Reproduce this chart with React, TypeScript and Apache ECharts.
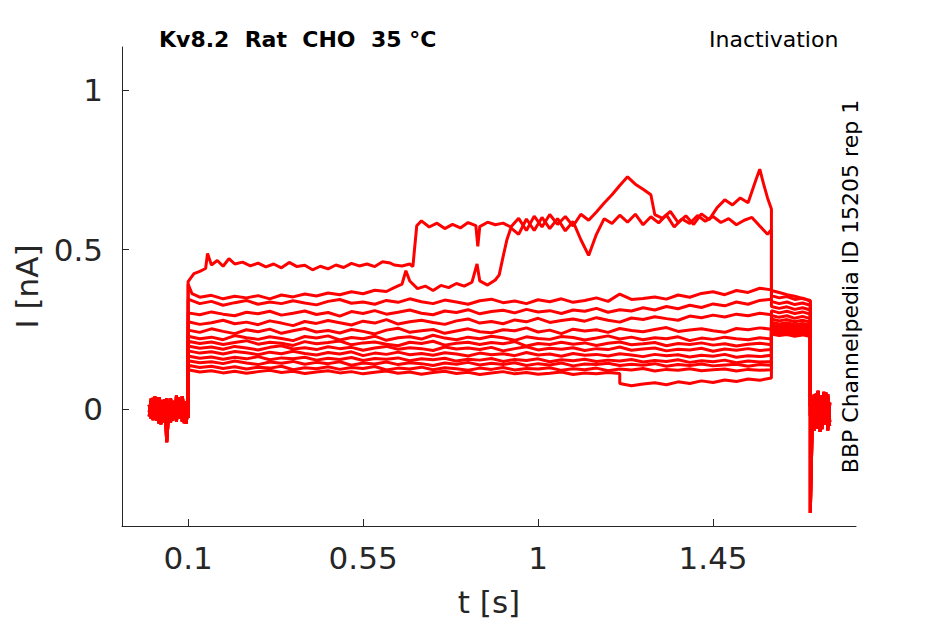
import React, { useEffect, useRef } from "react";
import * as echarts from "echarts";

// ---------- axis ticks ----------
const X_TICKS = [0.1, 0.55, 1, 1.45];
const Y_TICKS = [0, 0.5, 1];

// ---------- time grids (s) ----------
const PRE_T = [0, 0.005, 0.01, 0.015, 0.02, 0.025, 0.03, 0.035, 0.04, 0.045, 0.05, 0.055, 0.06, 0.065, 0.07, 0.075, 0.08, 0.085, 0.09, 0.095, 0.1];
const T_MAIN = [0.10, 0.13, 0.16, 0.19, 0.22, 0.25, 0.28, 0.31, 0.34, 0.37, 0.40, 0.43, 0.46, 0.49, 0.52, 0.55, 0.58, 0.61, 0.64, 0.67, 0.70, 0.73, 0.76, 0.79, 0.82, 0.85, 0.88, 0.91, 0.94, 0.97, 1.00, 1.03, 1.06, 1.09, 1.12, 1.15, 1.18, 1.21, 1.24, 1.27, 1.30, 1.33, 1.36, 1.39, 1.42, 1.45, 1.48, 1.51, 1.54, 1.57, 1.60];
const POST_T = [1.6, 1.62, 1.64, 1.66, 1.68, 1.7];
const TAIL_T = [1.7, 1.705, 1.71, 1.715, 1.72, 1.725, 1.73, 1.735, 1.74, 1.745, 1.75];

// ---------- baseline noise before / after the steps (pA) ----------
const PRE_1 = [-8, 21, -34, 12, -27, 38, -15, 29, -41, 7, -22, 33, -12, 26, -38, 17, -29, 41, -6, 24, -18];
const PRE_2 = [14, -29, 36, -18, 27, -44, 19, -7, 31, -103, -12, 28, -35, 9, -24, 37, -16, 30, -43, 11, -27];
const PRE_3 = [-22, 33, -11, 40, -36, 5, -47, 24, -19, 35, -8, -41, 18, -30, 43, -13, 27, -39, 21, -45, 8];
const TAIL_1 = [-325, -42, 38, -61, 27, -55, 44, -38, 52, -66, 21];
const TAIL_2 = [12, -58, 46, -33, 58, -71, 31, -49, 40, -28, -52];
const TAIL_3 = [-20, 35, -67, 49, -44, 22, -62, 55, -30, 47, -40];

// ---------- two large traces (own time grids) ----------
const A_T = [0.100, 0.115, 0.130, 0.145, 0.150, 0.160, 0.175, 0.190, 0.205, 0.220, 0.240, 0.260, 0.280, 0.300, 0.320, 0.340, 0.360, 0.380, 0.400, 0.420, 0.440, 0.460, 0.480, 0.500, 0.520, 0.540, 0.560, 0.580, 0.600, 0.620, 0.630, 0.650, 0.670, 0.678, 0.688, 0.700, 0.720, 0.740, 0.760, 0.780, 0.800, 0.820, 0.840, 0.845, 0.850, 0.870, 0.890, 0.910, 0.930, 0.950, 0.970, 0.990, 1.010, 1.030, 1.050, 1.070, 1.090, 1.110, 1.130, 1.150, 1.170, 1.190, 1.210, 1.230, 1.250, 1.270, 1.290, 1.300, 1.320, 1.340, 1.360, 1.380, 1.400, 1.420, 1.440, 1.460, 1.480, 1.500, 1.520, 1.540, 1.560, 1.570, 1.580, 1.590, 1.600];
const A_V = [400, 425, 432, 441, 488, 452, 466, 448, 472, 455, 461, 449, 458, 446, 455, 443, 460, 447, 451, 437, 448, 440, 452, 444, 457, 449, 455, 447, 462, 458, 452, 449, 455, 447, 575, 590, 571, 583, 566, 579, 568, 585, 575, 510, 572, 586, 578, 583, 571, 598, 560, 605, 571, 610, 579, 604, 574, 611, 592, 618, 646, 672, 701, 728, 705, 689, 672, 610, 598, 620, 585, 606, 579, 612, 594, 631, 656, 640, 662, 647, 718, 752, 705, 662, 627];
const B_T = [0.100, 0.110, 0.130, 0.160, 0.190, 0.220, 0.250, 0.280, 0.310, 0.340, 0.370, 0.400, 0.430, 0.460, 0.490, 0.520, 0.550, 0.580, 0.610, 0.630, 0.650, 0.660, 0.670, 0.690, 0.710, 0.730, 0.750, 0.770, 0.790, 0.810, 0.830, 0.843, 0.850, 0.870, 0.890, 0.900, 0.910, 0.920, 0.930, 0.950, 0.970, 0.990, 1.010, 1.030, 1.050, 1.070, 1.090, 1.110, 1.130, 1.150, 1.170, 1.190, 1.210, 1.230, 1.250, 1.270, 1.290, 1.310, 1.330, 1.350, 1.370, 1.390, 1.410, 1.430, 1.450, 1.470, 1.490, 1.510, 1.530, 1.550, 1.570, 1.590, 1.600];
const B_V = [392, 362, 351, 357, 346, 354, 349, 356, 346, 358, 352, 361, 355, 364, 359, 368, 362, 373, 369, 381, 392, 434, 402, 378, 386, 372, 388, 381, 394, 386, 398, 455, 402, 389, 405, 421, 478, 532, 568, 548, 596, 560, 601, 566, 597, 559, 588, 531, 482, 548, 597, 582, 608, 586, 611, 578, 603, 584, 609, 571, 596, 582, 607, 589, 604, 585, 597, 578, 592, 601, 574, 548, 562];

// ---------- lower traces on T_MAIN (pA) ----------
const L1 = [345, 331, 338, 326, 334, 341, 329, 336, 331, 340, 333, 327, 338, 344, 332, 336, 329, 341, 335, 346, 337, 331, 342, 336, 329, 340, 345, 334, 339, 331, 343, 337, 346, 335, 341, 349, 338, 361, 344, 347, 352, 345, 358, 351, 363, 368, 359, 372, 366, 379, 374];
const L2 = [302, 296, 305, 298, 293, 304, 299, 307, 295, 301, 308, 297, 303, 292, 306, 300, 309, 298, 304, 311, 301, 296, 308, 303, 312, 299, 306, 310, 302, 313, 305, 309, 300, 311, 307, 316, 304, 312, 308, 318, 311, 322, 315, 326, 319, 330, 324, 336, 329, 341, 345];
const L3 = [274, 266, 271, 279, 268, 273, 265, 277, 270, 262, 275, 269, 278, 271, 264, 276, 270, 281, 267, 274, 279, 272, 266, 277, 283, 270, 275, 268, 280, 274, 285, 272, 278, 283, 276, 287, 279, 273, 286, 281, 290, 284, 279, 292, 287, 295, 289, 298, 293, 301, 296];
const L4 = [248, 241, 252, 244, 237, 249, 243, 251, 238, 246, 253, 242, 247, 239, 250, 244, 236, 248, 254, 241, 246, 250, 238, 245, 252, 243, 240, 249, 246, 255, 242, 248, 237, 251, 245, 249, 241, 253, 247, 243, 250, 256, 244, 248, 252, 246, 241, 253, 249, 255, 251];
const L5 = [229, 221, 226, 218, 231, 224, 219, 227, 222, 215, 228, 223, 230, 217, 225, 221, 229, 216, 224, 227, 220, 232, 223, 218, 226, 221, 229, 224, 216, 227, 222, 219, 228, 225, 217, 223, 230, 220, 226, 218, 224, 221, 227, 215, 223, 219, 226, 221, 218, 224, 220];
const L6 = [213, 206, 211, 203, 209, 215, 204, 210, 207, 200, 212, 205, 209, 214, 202, 208, 211, 204, 199, 210, 206, 213, 201, 207, 210, 203, 209, 205, 212, 198, 206, 203, 210, 204, 208, 200, 207, 211, 202, 205, 209, 199, 206, 203, 208, 201, 205, 198, 204, 207, 202];
const L7 = [198, 191, 195, 188, 197, 192, 186, 194, 199, 189, 193, 187, 196, 190, 194, 185, 192, 197, 188, 193, 190, 184, 195, 189, 192, 187, 194, 183, 190, 196, 186, 191, 188, 193, 184, 190, 187, 195, 185, 189, 192, 183, 188, 186, 191, 182, 189, 185, 190, 184, 187];
const L8 = [183, 176, 180, 173, 181, 177, 171, 179, 174, 182, 175, 170, 178, 173, 180, 168, 176, 172, 179, 171, 175, 169, 177, 173, 167, 176, 171, 174, 168, 178, 170, 173, 166, 175, 169, 172, 167, 174, 170, 165, 172, 168, 171, 164, 169, 166, 172, 163, 168, 165, 169];
const L9 = [167, 160, 164, 157, 163, 158, 165, 155, 161, 158, 163, 154, 160, 156, 162, 153, 159, 157, 161, 152, 158, 155, 160, 151, 157, 154, 159, 150, 156, 153, 158, 149, 155, 152, 157, 150, 154, 151, 156, 148, 153, 150, 155, 147, 152, 149, 154, 146, 151, 148, 150];
const L10 = [152, 146, 149, 143, 151, 145, 140, 148, 144, 150, 141, 147, 143, 149, 138, 145, 142, 148, 140, 146, 143, 137, 145, 141, 147, 139, 144, 140, 146, 137, 143, 139, 145, 136, 142, 140, 144, 137, 141, 138, 143, 135, 140, 137, 142, 136, 139, 141, 135, 140, 138];
const L11 = [138, 131, 135, 128, 133, 126, 132, 129, 135, 124, 130, 127, 133, 125, 131, 128, 134, 123, 129, 126, 132, 124, 130, 127, 122, 129, 125, 131, 123, 128, 126, 130, 122, 127, 124, 129, 121, 126, 123, 128, 120, 125, 122, 127, 121, 124, 126, 120, 125, 122, 124];
// trace that drops at t = 1.21 s (its grid repeats 1.21 for the step)
const D_T = [...T_MAIN.slice(0, 38), ...T_MAIN.slice(37)];
const D_V = [124, 117, 121, 114, 119, 113, 118, 122, 115, 119, 112, 117, 121, 114, 118, 111, 116, 120, 113, 117, 110, 115, 119, 112, 116, 109, 114, 118, 111, 115, 110, 113, 117, 109, 114, 111, 115, 112, 81, 74, 79, 83, 77, 86, 81, 89, 84, 92, 87, 95, 91, 98];

// ---------- second step (1.6 - 1.7 s) per trace (pA) ----------
const POST_A = [372, 366, 359, 354, 347, 341];
const POST_B = [356, 349, 353, 344, 348, 339];
const POST_L1 = [338, 331, 336, 328, 333, 326];
const POST_L2 = [322, 316, 321, 313, 318, 311];
const POST_L3 = [309, 302, 307, 300, 305, 298];
const POST_L4 = [294, 288, 293, 285, 291, 284];
const POST_L5 = [283, 277, 281, 274, 279, 273];
const POST_L6 = [273, 267, 271, 265, 269, 263];
const POST_L7 = [265, 259, 264, 257, 262, 256];
const POST_L8 = [258, 252, 257, 250, 255, 249];
const POST_L9 = [251, 246, 250, 243, 248, 242];
const POST_L10 = [246, 240, 244, 238, 243, 237];
const POST_L11 = [241, 235, 239, 233, 238, 232];
const POST_D = [236, 231, 234, 229, 233, 228];

const FONT = "'DejaVu Sans', sans-serif";
const AXIS_COLOR = "#262626";

type Trace = { t: number[]; v: number[]; post: number[] };
const TRACES: Trace[] = [
  { t: A_T, v: A_V, post: POST_A },
  { t: B_T, v: B_V, post: POST_B },
  { t: T_MAIN, v: L1, post: POST_L1 },
  { t: T_MAIN, v: L2, post: POST_L2 },
  { t: T_MAIN, v: L3, post: POST_L3 },
  { t: T_MAIN, v: L4, post: POST_L4 },
  { t: T_MAIN, v: L5, post: POST_L5 },
  { t: T_MAIN, v: L6, post: POST_L6 },
  { t: T_MAIN, v: L7, post: POST_L7 },
  { t: T_MAIN, v: L8, post: POST_L8 },
  { t: T_MAIN, v: L9, post: POST_L9 },
  { t: T_MAIN, v: L10, post: POST_L10 },
  { t: T_MAIN, v: L11, post: POST_L11 },
  { t: D_T, v: D_V, post: POST_D },
];
const PRES = [PRE_1, PRE_2, PRE_3];
const TAILS = [TAIL_1, TAIL_2, TAIL_3];

function buildData(tr: Trace, k: number): number[][] {
  const out: number[][] = [];
  const pre = PRES[k % 3];
  const tail = TAILS[k % 3];
  PRE_T.forEach((t, i) => out.push([t, pre[i] / 1000]));
  tr.t.forEach((t, i) => out.push([t, tr.v[i] / 1000]));
  POST_T.forEach((t, i) => out.push([t, tr.post[i] / 1000]));
  TAIL_T.forEach((t, i) => out.push([t, tail[i] / 1000]));
  return out;
}

export default function App() {
  const ref = useRef<HTMLDivElement>(null);
  useEffect(() => {
    if (!ref.current) return;
    const chart = echarts.init(ref.current, null, { renderer: "svg" });
    const axisText = { fontSize: 31, fontFamily: FONT, color: AXIS_COLOR };
    chart.setOption({
      animation: false,
      backgroundColor: "#ffffff",
      grid: { left: 122, right: 89, top: 47, bottom: 98, containLabel: false },
      xAxis: {
        type: "value",
        min: -0.07,
        max: 1.8175,
        name: "t [s]",
        nameLocation: "middle",
        nameGap: 60,
        nameTextStyle: axisText,
        splitLine: { show: false },
        axisLine: { show: true, onZero: false, lineStyle: { color: AXIS_COLOR, width: 1 } },
        axisTick: { show: true, inside: true, length: 7, customValues: X_TICKS, lineStyle: { color: AXIS_COLOR } },
        axisLabel: { ...axisText, margin: 16, customValues: X_TICKS },
      },
      yAxis: {
        type: "value",
        min: -0.3655,
        max: 1.1347,
        name: "I [nA]",
        nameLocation: "middle",
        nameRotate: 90,
        nameGap: 75,
        nameTextStyle: axisText,
        splitLine: { show: false },
        axisLine: { show: true, onZero: false, lineStyle: { color: AXIS_COLOR, width: 1 } },
        axisTick: { show: true, inside: true, length: 7, customValues: Y_TICKS, lineStyle: { color: AXIS_COLOR } },
        axisLabel: { ...axisText, margin: 19, customValues: Y_TICKS },
      },
      series: TRACES.map((tr, k) => ({
        type: "line",
        data: buildData(tr, k),
        showSymbol: false,
        symbol: "none",
        silent: true,
        lineStyle: { color: "#ff0000", width: 3 },
        itemStyle: { color: "#ff0000" },
      })),
      graphic: [
        {
          type: "text",
          x: 159,
          y: 39,
          style: { text: "Kv8.2  Rat  CHO  35 °C", fontSize: 22, fontWeight: "bold", fontFamily: FONT, fill: "#000000", align: "left", verticalAlign: "middle" },
        },
        {
          type: "text",
          x: 709,
          y: 39,
          style: { text: "Inactivation", fontSize: 22, fontFamily: FONT, fill: "#000000", align: "left", verticalAlign: "middle" },
        },
        {
          type: "text",
          x: 850,
          y: 286.5,
          rotation: Math.PI / 2,
          style: { text: "BBP Channelpedia ID 15205 rep 1", fontSize: 22, fontFamily: FONT, fill: "#000000", align: "center", verticalAlign: "middle" },
        },
      ],
    });
    return () => chart.dispose();
  }, []);
  return <div ref={ref} style={{ position: "fixed", left: 0, top: 0, width: 945, height: 624 }} />;
}
